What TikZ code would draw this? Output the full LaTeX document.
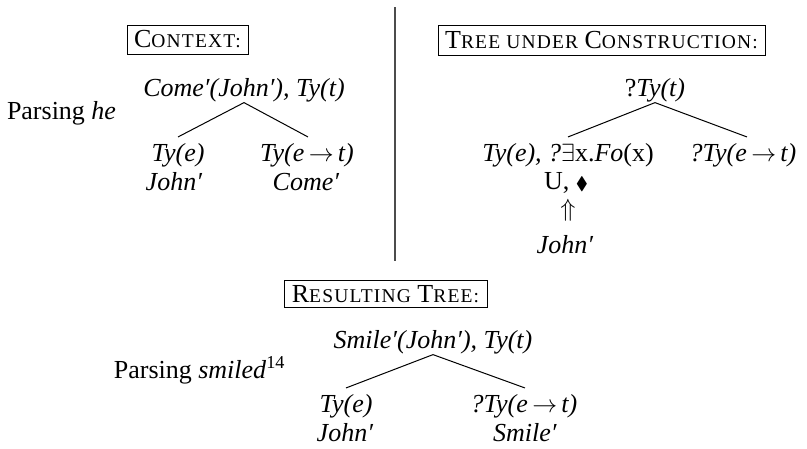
\documentclass[tikz,border=0pt]{standalone}
\usepackage{amssymb}
\usepackage{fontspec}
\setmainfont{Liberation Serif}
\newfontfamily\scfont[LetterSpace=6]{Liberation Serif}
\newcommand\smc[1]{{\scfont\fontsize{19.5}{20}\selectfont #1}}
\begin{document}
\begin{tikzpicture}[x=1pt,y=-1pt,
  every node/.style={font=\fontsize{26}{30}\selectfont, inner sep=0pt, outer sep=0pt},
  lbl/.style={anchor=base},
  hdr/.style={draw, line width=1pt, minimum width=#1},
  edge/.style={line width=1pt},
  sepline/.style={line width=1.3pt, black!70}]
\useasboundingbox (0,0) rectangle (807,448);

% separator
\coordinate (sepT) at (395,7);
\coordinate (sepB) at (395,261);
\draw[sepline] (sepT) -- (sepB);

% ---- Context ----
\node[hdr=121, minimum height=29pt] (ctx) at (187.5,39.5) {C\smc{ONTEXT:}};
\node[lbl] (lroot) at (244,96) {\textit{Come′(John′), Ty(t)}};
\node[lbl] (lc1) at (178,161) {\textit{Ty(e)}};
\node[lbl] (lc2) at (307,161) {\textit{Ty(e\,$\rightarrow$\,t)}};
\node[lbl] (lc1b) at (174,190) {\textit{John′}};
\node[lbl] (lc2b) at (306,190) {\textit{Come′}};
\node[anchor=base west] (lparse) at (7,119) {Parsing \textit{he}};
\draw[edge] ([yshift=-1pt]lroot.south) -- ([yshift=6pt]lc1.north);
\draw[edge] ([yshift=-1pt]lroot.south) -- ([xshift=1pt,yshift=6pt]lc2.north);

% ---- Tree under construction ----
\node[hdr=327, minimum height=30pt] (tuc) at (601.5,40) {T\smc{REE UNDER} C\smc{ONSTRUCTION:}};
\node[lbl] (rroot) at (655,96) {?\textit{Ty(t)}};
\node[lbl] (rc1) at (568,161) {\textit{Ty(e), ?}$\exists$x.\textit{Fo}(x)};
\node[lbl] (rc2) at (743,161) {\textit{?Ty(e\,$\rightarrow$\,t)}};
\node[lbl] (ru) at (566,189) {U, $\scriptstyle\blacklozenge$};
\node (rup) at (568,210) {$\Uparrow$};
\node[lbl] (rjohn) at (565,253) {\textit{John′}};
\draw[edge] ([yshift=-1pt]rroot.south) -- ([yshift=6pt]rc1.north);
\draw[edge] ([yshift=-1pt]rroot.south) -- ([xshift=4pt,yshift=6pt]rc2.north);

% ---- Resulting tree ----
\node[hdr=203, minimum height=27pt] (res) at (385.5,294) {R\smc{ESULTING} T\smc{REE:}};
\node[lbl] (broot) at (433,348) {\textit{Smile′(John′), Ty(t)}};
\node[lbl] (bc1) at (346,412) {\textit{Ty(e)}};
\node[lbl] (bc2) at (524,412) {\textit{?Ty(e\,$\rightarrow$\,t)}};
\node[lbl] (bc1b) at (345,441) {\textit{John′}};
\node[lbl] (bc2b) at (525,441) {\textit{Smile′}};
\node[anchor=base east] (bparse) at (285,378) {Parsing \textit{smiled}\textsuperscript{14}};
\draw[edge] ([yshift=-1pt]broot.south) -- ([yshift=6pt]bc1.north);
\draw[edge] ([yshift=-1pt]broot.south) -- ([xshift=1pt,yshift=6pt]bc2.north);
\end{tikzpicture}
\end{document}
